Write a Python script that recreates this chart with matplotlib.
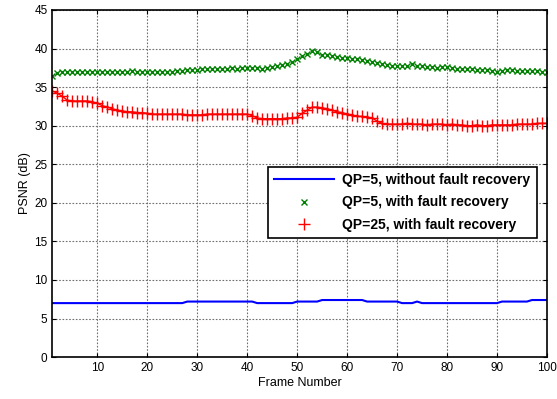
import matplotlib
matplotlib.use("Agg")
import matplotlib.pyplot as plt
from matplotlib.lines import Line2D

frames = list(range(1, 101))

psnr_qp5_no_recovery = (
    [7.0] * 27 + [7.2] * 14 + [7.0] * 8 + [7.2] * 5 + [7.4] * 9 +
    [7.2] * 7 + [7.0] * 3 + [7.2] + [7.0] * 16 + [7.2] * 6 + [7.4] * 4
)

psnr_qp5_recovery = [
    36.4, 36.8, 37.0, 36.9, 37.0, 37.0, 36.9, 37.0, 36.9, 37.0,
    37.0, 36.9, 37.0, 37.0, 36.9, 37.0, 37.1, 37.0, 37.0, 37.0,
    37.0, 37.0, 37.0, 37.0, 37.0, 37.1, 37.1, 37.2, 37.2, 37.2,
    37.3, 37.3, 37.3, 37.4, 37.4, 37.4, 37.5, 37.4, 37.5, 37.5,
    37.5, 37.5, 37.4, 37.5, 37.6, 37.7, 37.9, 38.0, 38.3, 38.6,
    39.0, 39.3, 39.7, 39.6, 39.2, 39.1, 39.0, 38.9, 38.8, 38.8,
    38.7, 38.6, 38.5, 38.4, 38.3, 38.1, 38.0, 37.9, 37.8, 37.7,
    37.7, 37.8, 38.0, 37.8, 37.7, 37.6, 37.6, 37.5, 37.6, 37.6,
    37.5, 37.4, 37.4, 37.3, 37.3, 37.2, 37.2, 37.2, 37.1, 37.0,
    37.1, 37.2, 37.2, 37.1, 37.1, 37.1, 37.1, 37.1, 37.0, 37.0,
]

psnr_qp25_recovery = [
    34.5, 34.2, 33.8, 33.3, 33.2, 33.2, 33.2, 33.2, 33.1, 32.9,
    32.6, 32.4, 32.2, 32.0, 31.9, 31.8, 31.8, 31.7, 31.7, 31.6,
    31.5, 31.5, 31.5, 31.5, 31.5, 31.5, 31.5, 31.4, 31.4, 31.4,
    31.4, 31.5, 31.5, 31.5, 31.5, 31.5, 31.5, 31.5, 31.5, 31.5,
    31.3, 31.0, 30.9, 30.9, 30.9, 30.9, 30.9, 31.0, 31.0, 31.1,
    31.6, 32.0, 32.4, 32.4, 32.3, 32.2, 32.0, 31.8, 31.7, 31.5,
    31.4, 31.2, 31.2, 31.1, 31.0, 30.6, 30.3, 30.2, 30.2, 30.2,
    30.2, 30.3, 30.2, 30.2, 30.2, 30.1, 30.2, 30.2, 30.2, 30.1,
    30.2, 30.1, 30.1, 30.0, 30.0, 30.1, 30.0, 30.0, 30.1, 30.1,
    30.1, 30.1, 30.1, 30.2, 30.2, 30.2, 30.2, 30.3, 30.3, 30.3,
]

labels = ["QP=5, without fault recovery", "QP=5, with fault recovery",
          "QP=25, with fault recovery"]
xticks = [10, 20, 30, 40, 50, 60, 70, 80, 90, 100]
yticks = [0, 5, 10, 15, 20, 25, 30, 35, 40, 45]

plt.rcParams['font.family'] = ['Liberation Sans', 'DejaVu Sans']

fig = plt.figure(figsize=(5.57, 3.99), dpi=100)
ax = fig.add_axes([0.094, 0.105, 0.888, 0.87])

ax.plot(frames, psnr_qp5_no_recovery, color='#0000ff', lw=1.5)
ax.plot(frames, psnr_qp5_recovery, color='#008000', ls='none', marker='x',
        ms=4.5, mew=1.0)
ax.plot(frames, psnr_qp25_recovery, color='#ff0000', lw=1.0, marker='+',
        ms=8, mew=1.0)

ax.set_xlim(1, 100)
ax.set_ylim(0, 45)
ax.set_xticks(xticks)
ax.set_yticks(yticks)
ax.tick_params(direction='in', top=True, right=True, labelsize=8.5, length=3)
ax.grid(True, ls=(0, (1.5, 1.5)), color='#707070', lw=0.8)
for s in ax.spines.values():
    s.set_linewidth(1.2)

ax.set_xlabel('Frame Number', fontsize=9, labelpad=2)
ax.set_ylabel('PSNR (dB)', fontsize=9, labelpad=2)

handles = [
    Line2D([], [], color='#0000ff', lw=1.5),
    Line2D([], [], color='#008000', ls='none', marker='x', ms=4, mew=1.0),
    Line2D([], [], color='#ff0000', ls='none', marker='+', ms=8, mew=1.0),
]
leg = ax.legend(handles, labels, loc='upper left',
                bbox_to_anchor=(0.436, 0.548), numpoints=1,
                fancybox=False, framealpha=1, edgecolor='black',
                prop={'weight': 'bold', 'size': 10}, handlelength=4.3,
                borderpad=0.45, labelspacing=0.6, handletextpad=0.6,
                borderaxespad=0)
leg.get_frame().set_linewidth(1.2)

fig.savefig('out.png', dpi=100)
